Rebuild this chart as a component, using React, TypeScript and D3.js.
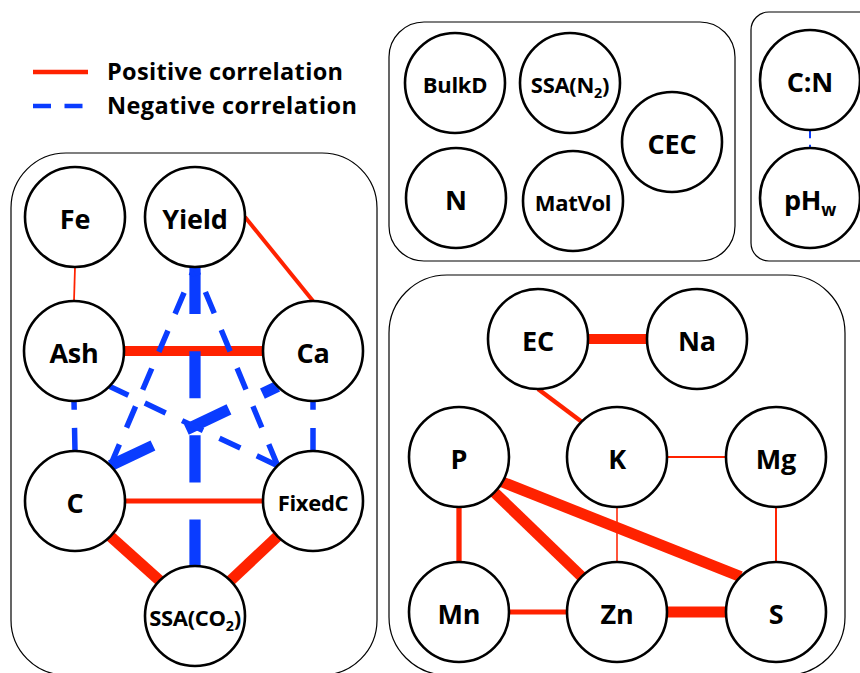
import React from 'react';
import * as d3 from 'd3';

const W = 860;
const H = 673;

// ---- data ----
const nodeIds = ['Fe', 'Yield', 'Ash', 'Ca', 'C', 'FixedC', 'SSA(CO2)', 'BulkD', 'SSA(N2)', 'CEC', 'N', 'MatVol', 'C:N', 'pHw', 'EC', 'Na', 'P', 'K', 'Mg', 'Mn', 'Zn', 'S'];
// label pieces: [main, subscript, tail]
const nodeLabels: Record<string, [string, string, string]> = {
  'SSA(CO2)': ['SSA(CO', '2', ')'],
  'SSA(N2)': ['SSA(N', '2', ')'],
  pHw: ['pH', 'w', ''],
};
const smallLabels = ['FixedC', 'SSA(CO2)', 'BulkD', 'SSA(N2)', 'MatVol'];

// [from, to, strength]
const positiveEdges: [string, string, number][] = [
  ['Fe', 'Ash', 0.8],
  ['Yield', 'Ca', 1.8],
  ['Ash', 'Ca', 4.5],
  ['C', 'FixedC', 2.2],
  ['C', 'SSA(CO2)', 5],
  ['FixedC', 'SSA(CO2)', 5],
  ['EC', 'Na', 4.5],
  ['EC', 'K', 2],
  ['K', 'Mg', 0.9],
  ['K', 'Zn', 0.7],
  ['Mg', 'S', 0.9],
  ['P', 'Mn', 2.4],
  ['P', 'Zn', 5],
  ['P', 'S', 5],
  ['Mn', 'Zn', 2.2],
  ['Zn', 'S', 5],
];
const negativeEdges: [string, string, number][] = [
  ['Yield', 'SSA(CO2)', 5.1],
  ['C', 'Ca', 5.1],
  ['C', 'Yield', 2.5],
  ['FixedC', 'Yield', 2.5],
  ['FixedC', 'Ash', 2.5],
  ['C', 'Ash', 2.5],
  ['FixedC', 'Ca', 2.5],
  ['C:N', 'pHw', 0.9],
];

const legendItems = ['Positive correlation', 'Negative correlation'];

// ---- layout / style ----
const layout: Record<string, [number, number]> = {
  Fe: [75, 217], Yield: [195, 217], Ash: [74, 351], Ca: [313, 351],
  C: [75, 501], FixedC: [313, 501], 'SSA(CO2)': [195, 616],
  BulkD: [455, 83], 'SSA(N2)': [570, 83], CEC: [672, 142], N: [456, 198], MatVol: [573, 201],
  'C:N': [810, 80], pHw: [810, 198],
  EC: [538, 339], Na: [697, 339], P: [459, 457], K: [617, 457], Mg: [776, 457],
  Mn: [459, 612], Zn: [617, 612], S: [776, 612],
};
// attachment angles on the circles (deg, 0 = east, 90 = south)
const anchors: Record<string, [number, number]> = {
  'Fe-Ash': [90, -90], 'Yield-Ca': [0, -90], 'Ash-Ca': [0, 180], 'C-FixedC': [0, 180],
  'C-SSA(CO2)': [45, -135], 'FixedC-SSA(CO2)': [135, -45], 'EC-Na': [0, 180], 'EC-K': [90, -135],
  'K-Mg': [0, 180], 'K-Zn': [90, -90], 'Mg-S': [90, -90], 'P-Mn': [90, -90], 'P-Zn': [45, -135],
  'P-S': [30, -135], 'Mn-Zn': [0, 180], 'Zn-S': [0, 180],
  'Yield-SSA(CO2)': [90, -90], 'C-Ca': [-45, 135], 'C-Yield': [-45, 90], 'FixedC-Yield': [-135, 90],
  'FixedC-Ash': [-135, 45], 'C-Ash': [-90, 90], 'FixedC-Ca': [-90, 90], 'C:N-pHw': [90, -90],
};
const boxes = [
  { x: 11, y: 153, w: 366, h: 522, r: 55 },
  { x: 389, y: 22, w: 346, h: 239, r: 35 },
  { x: 751, y: 12, w: 130, h: 249, r: 18 },
  { x: 389, y: 275, w: 456, h: 400, r: 58 },
];

const R = 50;
const RED = '#ff2200';
const BLUE = '#0a3cff';
const FONT = '"Open Sans", Lato, sans-serif';

const widthScale = d3.scaleLinear().domain([0, 5]).range([0, 11]);

function pt(id: string, ang: number): [number, number] {
  const [cx, cy] = layout[id];
  const a = (ang * Math.PI) / 180;
  return [cx + R * Math.cos(a), cy + R * Math.sin(a)];
}

function Label({ id }: { id: string }) {
  const [cx, cy] = layout[id];
  const small = smallLabels.includes(id);
  const fs = small ? 22 : 27;
  const parts = nodeLabels[id];
  const y = cy + fs * 0.36 + 2;
  return (
    <text x={cx} y={y} textAnchor="middle" fontFamily={FONT} fontWeight={700} fontSize={fs} fill="#000"
      letterSpacing={small ? -0.3 : -0.2}>
      {parts ? (
        <>
          <tspan>{parts[0]}</tspan>
          <tspan fontSize={fs * 0.65} dy={fs * 0.25}>{parts[1]}</tspan>
          {parts[2] ? <tspan dy={-fs * 0.25}>{parts[2]}</tspan> : null}
        </>
      ) : (
        id
      )}
    </text>
  );
}

export default function App() {
  const line = d3.line();
  const edges = [
    ...positiveEdges.map((e) => ({ e, pos: true })),
    ...negativeEdges.map((e) => ({ e, pos: false })),
  ];
  const dash = (w: number) => `${4.2 * w},${3.3 * w}`;
  return (
    <svg width={W} height={H} style={{ position: 'absolute', left: 0, top: 0, background: '#fff' }}>
      <rect x={0} y={0} width={W} height={H} fill="#fff" />
      {boxes.map((b, i) => (
        <rect key={i} x={b.x} y={b.y} width={b.w} height={b.h} rx={b.r} ry={b.r} fill="none" stroke="#000" strokeWidth={1.2} />
      ))}
      {edges.map(({ e, pos }, i) => {
        const [a, b, s] = e;
        const key = `${a}-${b}`;
        const [aa, ab] = anchors[key];
        const w = widthScale(s);
        const p1 = pt(a, aa);
        const p2 = pt(b, ab);
        return (
          <path
            key={i}
            d={line([p1, p2]) || ''}
            stroke={pos ? RED : BLUE}
            strokeWidth={w}
            fill="none"
            strokeDasharray={pos ? undefined : dash(w)}
          />
        );
      })}
      {nodeIds.map((id) => (
        <g key={id}>
          <circle cx={layout[id][0]} cy={layout[id][1]} r={R} fill="#fff" stroke="#000" strokeWidth={2.6} />
          <Label id={id} />
        </g>
      ))}
      {legendItems.map((t, i) => {
        const y = 72 + i * 34;
        const w = 4.5;
        return (
          <g key={t}>
            <path d={line([[33, y], [88, y]]) || ''} stroke={i === 0 ? RED : BLUE} strokeWidth={w}
              strokeDasharray={i === 0 ? undefined : `${4 * w},${3 * w}`} />
            <text x={107} y={y + 8} fontFamily={FONT} fontWeight={700} fontSize={23.5} fill="#000"
              textLength={i === 0 ? 236 : 250} lengthAdjust="spacing">
              {t}
            </text>
          </g>
        );
      })}
    </svg>
  );
}
